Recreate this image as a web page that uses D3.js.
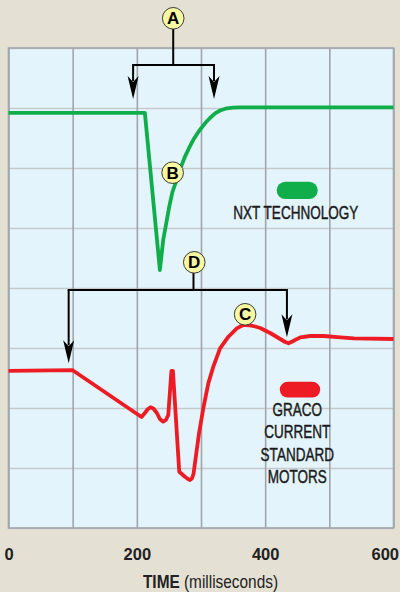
<!DOCTYPE html>
<html>
<head>
<meta charset="utf-8">
<script src="https://cdn.jsdelivr.net/npm/d3@7/dist/d3.min.js"></script>
<style>
  html, body { margin: 0; padding: 0; background: #e4e1d4; }
  svg { display: block; }
  text { font-family: "Liberation Sans", Arial, sans-serif; }
</style>
</head>
<body>
<svg id="chart" width="400" height="592"></svg>
<script>
// ---- data ----
const xTicks = [0, 200, 400, 600];
const gridTimes = [0, 100, 200, 300, 400, 500, 600];
const gridLevels = [0, 1, 2, 3, 4, 5, 6, 7, 8];

// NXT technology (green) — time in ms, value in grid units
const greenTime  = [0, 212.5, 235.9, 241.1, 250.5, 255.5, 262, 268.75, 275, 281.25, 288, 296.9, 306.25, 314, 321.9, 329.7, 340.2, 350, 361, 600];
const greenValue = [6.92, 6.92, 4.30, 4.80, 5.355, 5.60, 5.80, 6.017, 6.19, 6.33, 6.47, 6.617, 6.745, 6.833, 6.91, 6.958, 6.995, 7.007, 7.01, 7.01];

// Graco current standard motors (red)
const redTime  = [0, 100, 207.3, 212.5, 217.2, 221.4, 225.8, 231.25, 235.9, 241.1, 245.3, 249, 253.9, 256.25, 266.1, 275, 279.7, 282.8, 285.9, 288.3, 296.9, 303.6, 311.4, 319.2, 329.7, 342.7, 355.8, 362.6, 368.75, 376.6, 384.4, 392.2, 407.8, 423.4, 431.25, 436.4, 442.2, 454.7, 470.3, 491.1, 517.2, 538, 600];
const redValue = [2.62, 2.63, 1.85, 1.917, 1.983, 2.012, 1.992, 1.917, 1.817, 1.772, 1.80, 1.883, 2.617, 2.617, 0.938, 0.855, 0.817, 0.80, 0.825, 0.90, 1.578, 1.995, 2.41, 2.69, 2.995, 3.188, 3.328, 3.367, 3.383, 3.378, 3.358, 3.333, 3.25, 3.15, 3.10, 3.078, 3.108, 3.178, 3.20, 3.20, 3.178, 3.162, 3.15];

const greenLegend = ["NXT TECHNOLOGY"];
const redLegend = ["GRACO", "CURRENT", "STANDARD", "MOTORS"];
const axisTitleBold = "TIME";
const axisTitleRest = " (milliseconds)";

// ---- layout ----
const svg = d3.select("#chart");
const pLeft = 8.5, pRight = 393.5, pTop = 48, pBottom = 528;
const x = d3.scaleLinear().domain([0, 600]).range([pLeft, pRight]);
const y = d3.scaleLinear().domain([0, 8]).range([pBottom, pTop]);

// plot background
svg.append("rect").attr("x", pLeft).attr("y", pTop)
  .attr("width", pRight - pLeft).attr("height", pBottom - pTop)
  .attr("fill", "#e4f4fc");

// horizontal grid
const hg = svg.append("g").attr("transform", `translate(${pLeft},0)`)
  .call(d3.axisLeft(y).tickValues(gridLevels).tickSize(-(pRight - pLeft)).tickFormat(""));
hg.select(".domain").remove();
hg.selectAll(".tick line").attr("stroke", "#c6c9cb").attr("stroke-width", 1.6);

// vertical grid
const vg = svg.append("g").attr("transform", `translate(0,${pBottom})`)
  .call(d3.axisBottom(x).tickValues(gridTimes).tickSize(-(pBottom - pTop)).tickFormat(""));
vg.select(".domain").remove();
vg.selectAll(".tick line").attr("stroke", "#a0a5aa").attr("stroke-width", 1.6);

// border
svg.append("rect").attr("x", pLeft).attr("y", pTop)
  .attr("width", pRight - pLeft).attr("height", pBottom - pTop)
  .attr("fill", "none").attr("stroke", "#a2a7ab").attr("stroke-width", 1.6);

// tick labels
const xa = svg.append("g").attr("transform", `translate(0,${pBottom})`)
  .call(d3.axisBottom(x).tickValues(xTicks).tickSize(0).tickPadding(0));
xa.select(".domain").remove();
xa.selectAll(".tick text")
  .attr("y", 32).attr("dy", 0)
  .attr("font-family", "Liberation Sans, Arial, sans-serif")
  .attr("font-size", 16.5).attr("font-weight", "bold").attr("fill", "#222");
xa.selectAll(".tick").filter(d => d === 600).select("text")
  .attr("text-anchor", "end").attr("x", 5);

// axis title
const tt = svg.append("g").attr("transform", "translate(210.5,587.5) scale(0.88,1)")
  .append("text").attr("text-anchor", "middle").attr("font-size", 17.5).attr("fill", "#222");
tt.append("tspan").attr("font-weight", "bold").text(axisTitleBold);
tt.append("tspan").text(axisTitleRest);

// lines
const line = d3.line().x(d => x(d[0])).y(d => y(d[1]));
svg.append("path").datum(greenTime.map((t, i) => [t, greenValue[i]]))
  .attr("d", line).attr("fill", "none").attr("stroke", "#0fae4b")
  .attr("stroke-width", 3.8).attr("stroke-linejoin", "round").attr("stroke-linecap", "butt");
svg.append("path").datum(redTime.map((t, i) => [t, redValue[i]]))
  .attr("d", line).attr("fill", "none").attr("stroke", "#ed1c24")
  .attr("stroke-width", 3.8).attr("stroke-linejoin", "round").attr("stroke-linecap", "butt");

// annotation brackets
function arrowDown(g, px, pyTop, pyTip) {
  g.append("line").attr("x1", px).attr("x2", px).attr("y1", pyTop).attr("y2", pyTip - 18)
    .attr("stroke", "#000").attr("stroke-width", 2);
  g.append("path")
    .attr("d", `M${px - 5.5},${pyTip - 23} L${px},${pyTip - 17} L${px + 5.5},${pyTip - 23} L${px},${pyTip} Z`)
    .attr("fill", "#000");
}
function bracket(tStem, vStemTop, vBar, t1, vTip1, t2, vTip2) {
  const g = svg.append("g");
  const py = y(vBar);
  g.append("line").attr("x1", x(tStem)).attr("x2", x(tStem)).attr("y1", y(vStemTop)).attr("y2", py)
    .attr("stroke", "#000").attr("stroke-width", 2);
  g.append("line").attr("x1", x(t1) - 1).attr("x2", x(t2) + 1).attr("y1", py).attr("y2", py)
    .attr("stroke", "#000").attr("stroke-width", 2);
  arrowDown(g, x(t1), py, y(vTip1));
  arrowDown(g, x(t2), py, y(vTip2));
}
bracket(256.7, 8.35, 7.717, 194.2, 7.15, 320.3, 7.15);
bracket(288.3, 4.30, 3.967, 93.75, 2.745, 433.9, 3.178);

// circle markers
const markers = [
  { label: "A", t: 256.7, v: 8.495 },
  { label: "B", t: 255.8, v: 5.922 },
  { label: "C", t: 368.75, v: 3.562 },
  { label: "D", t: 289.5, v: 4.428 }
];
const mg = svg.selectAll(".marker").data(markers).enter().append("g")
  .attr("transform", d => `translate(${x(d.t)},${y(d.v)})`);
mg.append("circle").attr("r", 10.8).attr("fill", "#f8f8a0")
  .attr("stroke", "#3a3a3a").attr("stroke-width", 1);
mg.append("text").attr("text-anchor", "middle").attr("y", 6)
  .attr("font-size", 17).attr("font-weight", "bold").attr("fill", "#000")
  .text(d => d.label);

// legend
svg.append("rect").attr("x", 276.7).attr("y", 181.8).attr("width", 41).attr("height", 17.2)
  .attr("rx", 8.6).attr("fill", "#0fae4b");
svg.append("rect").attr("x", 279.8).attr("y", 381.7).attr("width", 40.4).attr("height", 15.8)
  .attr("rx", 7.9).attr("fill", "#ed1c24");

function legendText(s, cx, by) {
  svg.append("g").attr("transform", `translate(${cx},${by}) scale(0.72,1)`)
    .append("text").attr("text-anchor", "middle").attr("font-size", 18.8)
    .attr("fill", "#1a1a1a").attr("stroke", "#1a1a1a").attr("stroke-width", 0.45)
    .text(s);
}
greenLegend.forEach((s, i) => legendText(s, 295.8, 218.5 + i * 22.4));
redLegend.forEach((s, i) => legendText(s, 297.3, 416 + i * 22.4));
</script>
</body>
</html>
